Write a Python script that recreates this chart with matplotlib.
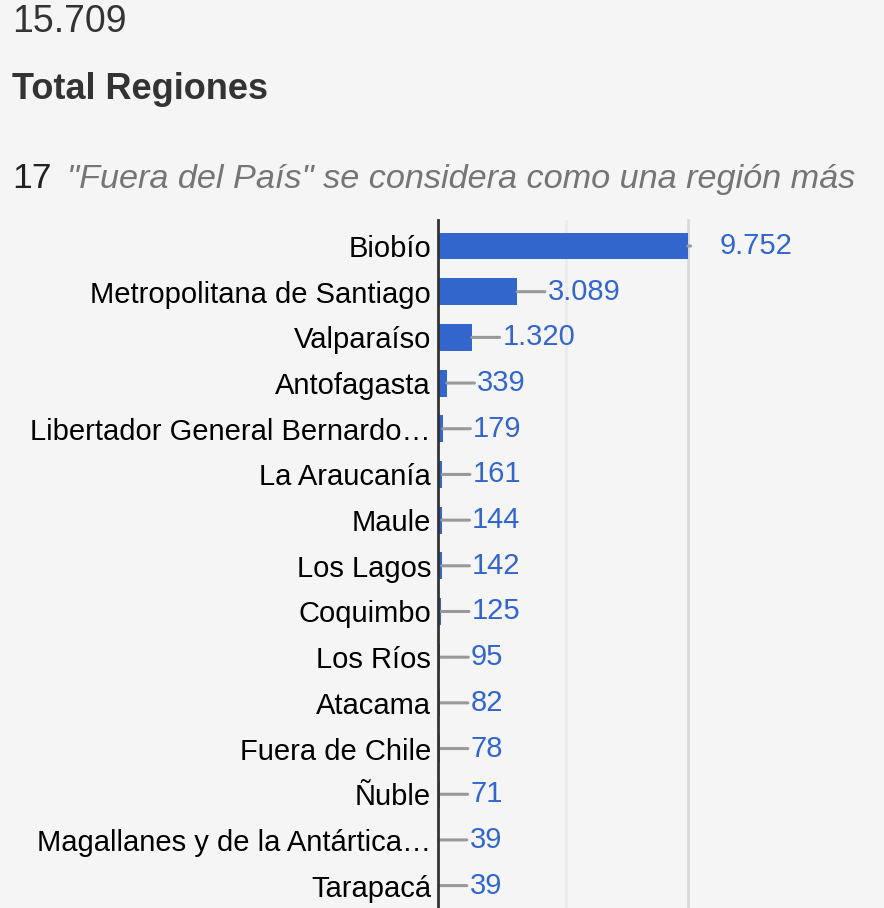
"""Total de registros por región (barras horizontales)"""

import matplotlib
matplotlib.use("Agg")
import matplotlib.pyplot as plt

# Datos
regiones = [
    "Biobío", "Metropolitana de Santiago", "Valparaíso", "Antofagasta",
    "Libertador General Bernardo…", "La Araucanía", "Maule", "Los Lagos",
    "Coquimbo", "Los Ríos", "Atacama", "Fuera de Chile", "Ñuble",
    "Magallanes y de la Antártica…", "Tarapacá",
]
valores = [9752, 3089, 1320, 339, 179, 161, 144, 142, 125, 95, 82, 78, 71, 39, 39]
total = "15.709"
n_regiones = "17"
nota = '"Fuera del País" se considera como una región más'

BG = "#f5f5f5"
AZUL = "#3366cc"

plt.rcParams["font.family"] = ["Liberation Sans", "DejaVu Sans"]

fig = plt.figure(figsize=(8.84, 9.08), dpi=100, facecolor=BG)

# Cabecera
fig.text(12 / 884, 1 - 32 / 908, total, fontsize=27, color="#333333", va="baseline")
fig.text(12 / 884, 1 - 99 / 908, "Total Regiones", fontsize=26, fontweight="bold",
         color="#333333", va="baseline")
fig.text(12 / 884, 1 - 188 / 908, n_regiones, fontsize=25.5, color="#222222", va="baseline")
fig.text(67 / 884, 1 - 188 / 908, nota, fontsize=24.7, style="italic",
         color="#757575", va="baseline")

# Gráfico
ax = fig.add_axes([438 / 884, 0, 250 / 884, 1 - 220 / 908], facecolor=BG)
pos = list(range(len(regiones)))
ax.barh(pos, valores, height=0.59, color=AZUL, zorder=3)

ax.set_xlim(0, 9760)
ax.set_ylim(14.49, -0.569)
ax.set_xticks([5000])
ax.xaxis.grid(True, color="#ebebeb", linewidth=2, zorder=0)
ax.tick_params(axis="x", length=0, labelbottom=False)
ax.set_yticks(pos)
ax.set_yticklabels(regiones, fontsize=21, color="#000000")
ax.tick_params(axis="y", length=0, pad=5)

for s in ["top", "bottom"]:
    ax.spines[s].set_visible(False)
ax.spines["left"].set_color("#333333")
ax.spines["left"].set_linewidth(2)
ax.spines["left"].set_zorder(4)
ax.spines["right"].set_color("#d9d9d9")
ax.spines["right"].set_linewidth(2)

# Etiquetas con línea guía
for i, v in enumerate(valores):
    etiqueta = f"{v:,}".replace(",", ".")
    if v == max(valores):
        ax.annotate(etiqueta, xy=(v, i), xytext=(23, 0), textcoords="offset points",
                    ha="left", va="center", fontsize=21, color=AZUL, annotation_clip=False)
        ax.annotate("", xy=(v, i), xytext=(2, 0), textcoords="offset points",
                    arrowprops=dict(arrowstyle="-", color="#999999", lw=2.2,
                                    shrinkA=0, shrinkB=0), annotation_clip=False)
    else:
        ax.annotate(etiqueta, xy=(v, i), xytext=(22, 0), textcoords="offset points",
                    ha="left", va="center", fontsize=21, color=AZUL, annotation_clip=False,
                    arrowprops=dict(arrowstyle="-", color="#999999", lw=2.2,
                                    shrinkA=0, shrinkB=0))

fig.savefig("out.png", dpi=100, facecolor=BG)
